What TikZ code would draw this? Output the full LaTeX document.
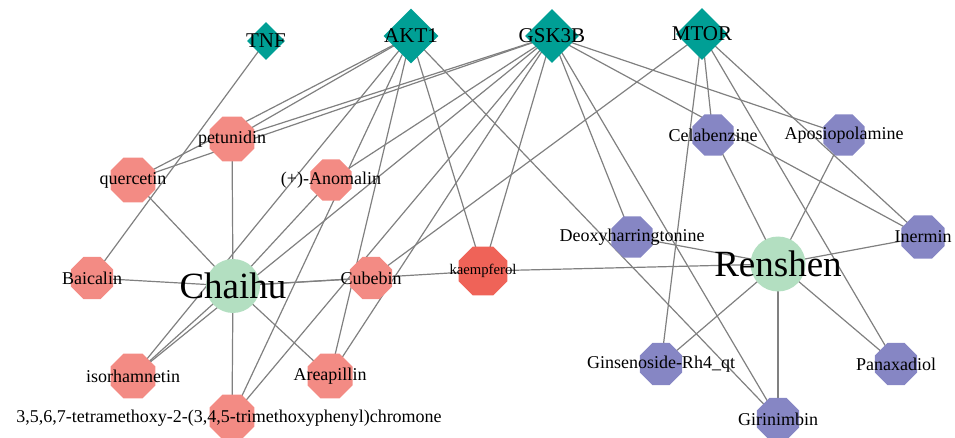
\documentclass[tikz,border=0pt]{standalone}
\usepackage{fontspec}
\setmainfont{Liberation Serif}
\usetikzlibrary{shapes.geometric,backgrounds}
\definecolor{herbred}{HTML}{F38B84}
\definecolor{shared}{HTML}{EF6358}
\definecolor{herbblue}{HTML}{8686C4}
\definecolor{herbgreen}{HTML}{B3DFC1}
\definecolor{target}{HTML}{009F95}
\definecolor{edgegray}{HTML}{808080}
\tikzset{
  oct/.style={regular polygon, regular polygon sides=8, draw=none, inner sep=0pt, minimum size=#1},
  redc/.style={oct=#1, fill=herbred},
  bluec/.style={oct=#1, fill=herbblue},
  herb/.style={circle, draw=none, fill=herbgreen, inner sep=0pt, minimum size=#1},
  gene/.style={diamond, aspect=1, draw=none, fill=target, inner sep=0pt, minimum size=#1},
  lbl/.style={font=\fontsize{18}{20}\selectfont, inner sep=0pt},
  glbl/.style={font=\fontsize{21}{23}\selectfont, inner sep=0pt},
  hlbl/.style={font=\fontsize{37}{40}\selectfont, inner sep=0pt},
  klbl/.style={font=\fontsize{14.7}{16}\selectfont, inner sep=0pt},
  edge/.style={draw=edgegray, line width=1.2pt}
}
\begin{document}
\begin{tikzpicture}[x=1pt,y=-1pt]
\useasboundingbox (0,0) rectangle (955,438);
% targets
\node[gene=38, label={[glbl]center:TNF}] (tnf) at (266,41) {};
\node[gene=55, label={[glbl]center:AKT1}] (akt) at (411,36) {};
\node[gene=54, label={[glbl]center:GSK3B}] (gsk) at (552,36) {};
\node[gene=52, label={[glbl]center:MTOR}] (mtor) at (702,34) {};
% herbs
\node[herb=54, label={[hlbl]center:Chaihu}] (chaihu) at (233,286) {};
\node[herb=55, label={[hlbl]center:Renshen}] (renshen) at (778,264) {};
% Chaihu compounds
\node[redc=48.7, label={[lbl]center:petunidin}] (pet) at (232,139) {};
\node[redc=48.7, label={[lbl]center:quercetin}] (que) at (133,180) {};
\node[redc=44.5, label={[lbl]center:(+)-Anomalin}] (ano) at (331,180) {};
\node[redc=45.5, label={[lbl]center:Baicalin}] (bai) at (92,278) {};
\node[redc=45.5, label={[lbl]center:Cubebin}] (cub) at (371,278) {};
\node[redc=48.7, label={[lbl]center:isorhamnetin}] (iso) at (133,376) {};
\node[redc=48.7, label={[lbl]center:Areapillin}] (are) at (330,376) {};
\node[redc=48.7] (tmc) at (232,417) {};
\node[lbl] (tmclbl) at (229,418) {3,5,6,7-tetramethoxy-2-(3,4,5-trimethoxyphenyl)chromone};
% shared
\node[oct=53, fill=shared, label={[klbl]center:kaempferol}] (kae) at (483,271) {};
% Renshen compounds
\node[bluec=44.5, label={[lbl]center:Celabenzine}] (cel) at (713,135) {};
\node[bluec=44.5, label={[lbl]center:Aposiopolamine}] (apo) at (844,135) {};
\node[bluec=44.5, label={[lbl]center:Deoxyharringtonine}] (deo) at (632,237) {};
\node[bluec=47, label={[lbl]center:Inermin}] (ine) at (923,237) {};
\node[bluec=45.5, label={[lbl]center:Ginsenoside-Rh4\_qt}] (gin) at (661,364) {};
\node[bluec=45.5, label={[lbl]center:Panaxadiol}] (pan) at (896,364) {};
\node[bluec=45.5, label={[lbl]center:Girinimbin}] (gir) at (778,419) {};
\begin{pgfonlayer}{background}
\foreach \a/\b in {chaihu/pet, chaihu/que, chaihu/ano, chaihu/bai, chaihu/cub, chaihu/kae, chaihu/iso, chaihu/are, chaihu/tmc,
  renshen/deo, renshen/cel, renshen/apo, renshen/ine, renshen/gin, renshen/pan, renshen/gir, renshen/kae,
  tnf/bai,
  akt/pet, akt/que, akt/iso, akt/tmc, akt/are, akt/kae, akt/gir,
  gsk/pet, gsk/que, gsk/ano, gsk/iso, gsk/tmc, gsk/are, gsk/kae, gsk/deo, gsk/gir, gsk/ine, gsk/apo,
  mtor/cub, mtor/gin, mtor/cel, mtor/pan, mtor/ine}
  \draw[edge] (\a.center) -- (\b.center);
\end{pgfonlayer}
\end{tikzpicture}
\end{document}
